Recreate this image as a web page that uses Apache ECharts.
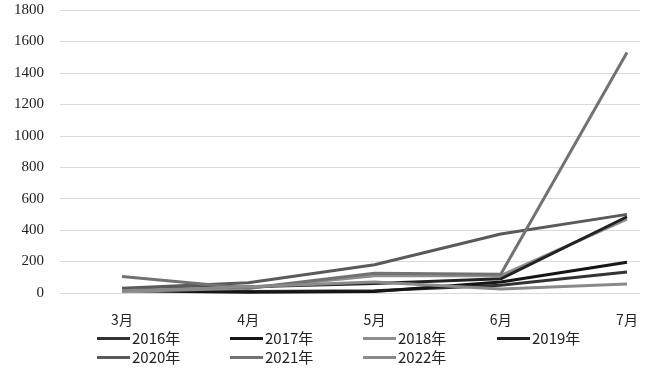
<!DOCTYPE html>
<html><head><meta charset="utf-8">
<script src="https://cdn.jsdelivr.net/npm/echarts@6/dist/echarts.min.js"></script>
<style>html,body{margin:0;padding:0;background:#fff}#c{width:651px;height:370px}</style>
</head><body><div id="c"></div>
<script>
const categories = ['3月','4月','5月','6月','7月'];
const yTicks = [0,200,400,600,800,1000,1200,1400,1600,1800];
const seriesNames = ['2016年','2017年','2018年','2019年','2020年','2021年','2022年'];
const s2016 = [20, 10, 15, 50, 133];
const s2017 = [15, 5, 10, 70, 195];
const s2018 = [10, 30, 110, 110, 470];
const s2019 = [25, 40, 60, 90, 485];
const s2020 = [30, 65, 180, 375, 500];
const s2021 = [105, 30, 125, 120, 1530];
const s2022 = [15, 40, 70, 25, 58];
const seriesValues = [s2016, s2017, s2018, s2019, s2020, s2021, s2022];
const colors = ['#333333','#151515','#8e8e8e','#222222','#5a5a5a','#727272','#8a8a8a'];

const legendPos = [[97,331],[230,331],[363,331],[497,331],[97,350],[230,350],[363,350]];
const chart = echarts.init(document.getElementById('c'));
chart.setOption({
  animation:false,
  backgroundColor:'#fff',
  grid:[
    {left:60,right:11,top:10,bottom:77},
    {left:122,right:24,top:10,bottom:77}
  ],
  xAxis:[
    {gridIndex:0,type:'category',data:categories,show:false},
    {gridIndex:1,type:'category',data:categories,boundaryGap:false,
     axisLine:{show:false},axisTick:{show:false},
     axisLabel:{margin:20,fontSize:14,color:'#222',fontFamily:'Noto Sans CJK SC'}}
  ],
  yAxis:[
    {gridIndex:0,type:'value',min:yTicks[0],max:yTicks[yTicks.length-1],interval:200,
     axisLine:{show:false},axisTick:{show:false},
     axisLabel:{margin:16,fontSize:15,color:'#222',fontFamily:'"Liberation Serif", "DejaVu Serif", serif',
       formatter:v=>String(v)},
     splitLine:{lineStyle:{color:'#d9d9d9',width:1}}},
    {gridIndex:1,type:'value',min:yTicks[0],max:yTicks[yTicks.length-1],interval:200,show:false,splitLine:{show:false}}
  ],
  legend: seriesNames.map((n,i)=>({
    data:[n],left:legendPos[i][0],top:legendPos[i][1],
    icon:'rect',itemWidth:33,itemHeight:3,itemGap:0,padding:0,
    textStyle:{fontSize:15,color:'#222',fontFamily:'Noto Sans CJK SC',padding:[0,0,0,-3]}
  })),
  series: seriesNames.map((n,i)=>({
    name:n,type:'line',xAxisIndex:1,yAxisIndex:1,data:seriesValues[i],
    symbol:'none',lineStyle:{width:3,color:colors[i]},itemStyle:{color:colors[i]}
  }))
});
</script></body></html>
